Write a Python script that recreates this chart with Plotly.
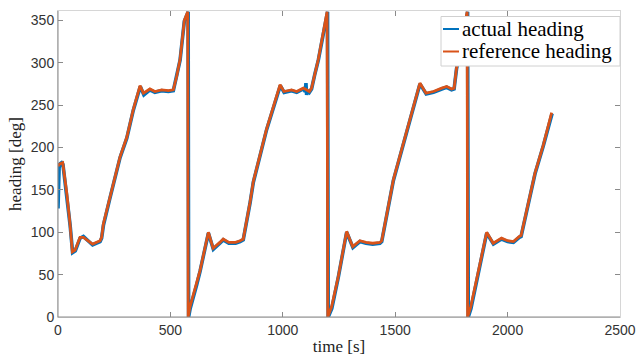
import plotly.graph_objects as go

# reference heading (time [s], heading [deg])
ref_t = [0, 5, 12, 21, 24, 31, 39, 53, 64, 76, 98, 113, 154, 187, 194, 202, 230, 261, 276, 306,
         335, 365, 380, 409, 431, 461, 491, 513, 528, 543, 562, 577, 579, 587, 617, 632, 669, 690,
         720, 735, 760, 790, 810, 824, 854, 869, 928, 988, 1005, 1039, 1062, 1091, 1105, 1118, 1128,
         1143, 1158, 1197, 1200, 1217, 1247, 1284, 1311, 1343, 1370, 1400, 1432, 1440, 1492, 1550,
         1610, 1637, 1670, 1707, 1729, 1751, 1762, 1773, 1781, 1820, 1822, 1836, 1907, 1936, 1973,
         2000, 2026, 2052, 2060, 2085, 2122, 2159, 2196]
ref_h = [178, 180, 181, 182, 176, 162, 146, 111, 77, 79, 94, 94, 86, 90, 94, 110, 140, 172, 189, 212,
         245, 273, 264, 269, 266, 268, 267, 268, 284, 304, 350, 360, 0, 12, 40, 55, 100, 81,
         88, 92, 88, 88, 90, 92, 135, 160, 222, 274, 266, 268, 266, 270, 268, 266, 270,
         288, 304, 360, 0, 12, 48, 101, 83, 90, 88, 87, 88, 90, 162, 218,
         276, 264, 266, 270, 272, 269, 270, 294, 304, 360, 0, 12, 100, 87, 93,
         90, 89, 95, 96, 126, 170, 203, 241]

# actual heading
act_t = [0, 2, 5, 10, 16, 22, 26, 33, 41, 54, 65, 77, 98, 113, 154, 187, 194, 202, 230, 261, 276,
         306, 335, 366, 382, 409, 431, 461, 491, 513, 528, 543, 562, 579, 581, 588, 617, 632, 669,
         691, 720, 735, 760, 790, 810, 824, 854, 869, 928, 989, 1006, 1039, 1062, 1091, 1100, 1103,
         1106, 1110, 1118, 1128, 1143, 1158, 1199, 1202, 1218, 1247, 1284, 1312, 1343, 1370, 1400,
         1432, 1440, 1492, 1550, 1610, 1638, 1670, 1707, 1729, 1751, 1762, 1773, 1781, 1822, 1825,
         1837, 1907, 1937, 1973, 2000, 2026, 2052, 2060, 2085, 2122, 2159, 2198]
act_h = [128, 150, 176, 181, 182, 180, 172, 157, 142, 108, 76, 78, 93, 95, 85, 89, 93, 108, 139, 171, 188,
         211, 244, 272, 262, 268, 265, 267, 266, 267, 283, 303, 349, 360, 0, 10, 38, 54, 99,
         80, 87, 91, 87, 87, 89, 91, 134, 159, 221, 273, 265, 267, 265, 269, 266, 276,
         262, 267, 265, 269, 287, 303, 360, 0, 10, 47, 100, 82, 89, 87, 86,
         87, 89, 161, 217, 275, 263, 265, 269, 271, 268, 269, 293, 303, 360, 0,
         10, 99, 86, 92, 89, 88, 94, 95, 125, 169, 202, 240]

assert len(ref_t) == len(ref_h) and len(act_t) == len(act_h)

x_ticks = [0, 500, 1000, 1500, 2000, 2500]
y_ticks = [0, 50, 100, 150, 200, 250, 300, 350]
legend_labels = ["actual heading", "reference heading"]
colors = ["#0072BD", "#D95319"]

fig = go.Figure()
fig.add_trace(go.Scatter(x=act_t, y=act_h, mode="lines", name=legend_labels[0],
                         line=dict(color=colors[0], width=3.6)))
fig.add_trace(go.Scatter(x=ref_t, y=ref_h, mode="lines", name=legend_labels[1],
                         line=dict(color=colors[1], width=2.8)))

W, H = 640, 356
L, R, T, B = 58, 20, 11, 39
pw, ph = W - L - R, H - T - B

def px(xp):
    return (xp - L) / pw

def py(yp):
    return (H - B - yp) / ph

axis_common = dict(showgrid=False, zeroline=False, ticks="inside", ticklen=5,
                   tickcolor="#8a8a8a", showline=True, linecolor="#d6d6d6", linewidth=1,
                   mirror="ticks",
                   tickfont=dict(family="Liberation Sans, Arial, sans-serif", size=14, color="#333333"))

fig.update_layout(
    width=W, height=H,
    margin=dict(l=L, r=R, t=T, b=B),
    paper_bgcolor="white", plot_bgcolor="white",
    showlegend=False,
    xaxis=dict(range=[0, 2500], tickvals=x_ticks, ticktext=[str(v) for v in x_ticks],
               title=dict(text="time [s]", standoff=4,
                          font=dict(family="Liberation Serif, serif", size=17, color="#222222")),
               automargin=False, **axis_common),
    yaxis=dict(range=[0, 361], tickvals=y_ticks, ticktext=[str(v) for v in y_ticks],
               title=dict(text="heading [deg]", standoff=4,
                          font=dict(family="Liberation Serif, serif", size=17, color="#222222")),
               automargin=False, **axis_common),
)

# darker left / bottom axis lines
fig.add_shape(type="line", xref="x domain", yref="y domain", x0=0, x1=0, y0=0, y1=1,
              line=dict(color="#8a8a8a", width=1), layer="above")
fig.add_shape(type="line", xref="x domain", yref="y domain", x0=0, x1=1, y0=0, y1=0,
              line=dict(color="#8a8a8a", width=1), layer="above")

# legend box
fig.add_shape(type="rect", xref="x domain", yref="y domain",
              x0=px(441), x1=1.0, y0=py(66), y1=py(16.5),
              fillcolor="white", line=dict(color="#d0d0d0", width=1), layer="above")
for i, (lab, yp) in enumerate(zip(legend_labels, [29, 51.5])):
    fig.add_shape(type="line", xref="x domain", yref="y domain",
                  x0=px(443), x1=px(459), y0=py(yp), y1=py(yp),
                  line=dict(color=colors[i], width=2), layer="above")
    fig.add_annotation(xref="x domain", yref="y domain", x=px(459.5), y=py(yp),
                       text=lab, showarrow=False, xanchor="left", yanchor="middle",
                       font=dict(family="Liberation Serif, serif", size=21, color="#000000"))

fig.write_html("out.html")
